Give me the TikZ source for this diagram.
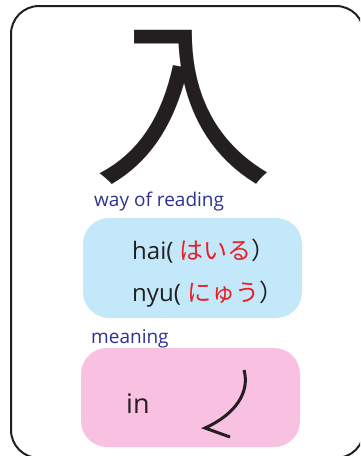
\documentclass[tikz,border=0pt]{standalone}
\usepackage{fontspec}
\setmainfont{Open Sans}
\newfontfamily\cjk{Noto Sans CJK JP}
\definecolor{inkblack}{RGB}{35,31,32}
\definecolor{labelblue}{RGB}{46,49,146}
\definecolor{kanared}{RGB}{237,28,36}
\definecolor{readbg}{RGB}{194,232,249}
\definecolor{meanbg}{RGB}{248,192,225}
\tikzset{
  box/.style={rounded corners=26pt, minimum width=219pt, inner sep=0pt},
  heading/.style={anchor=west, inner sep=0pt, text=labelblue, font=\fontsize{19}{19}\selectfont},
  reading/.style={anchor=west, inner sep=0pt, text=inkblack, font=\fontsize{24}{24}\selectfont}
}
\begin{document}
\begin{tikzpicture}[x=1pt,y=-1pt]
            \useasboundingbox (0,0) rectangle (360,456);
            \clip (0,0) rectangle (360,456);
            \draw [inkblack, line width=2pt, rounded corners=28pt] (11,6) rectangle (364,458);
            \node [inner sep=0pt, text=inkblack, font=\cjk\fontsize{180}{180}\selectfont] (kanji) at (183,107) {入};
            \node [heading] (readhead) at (94,202) {way of reading};
            \node [box, fill=readbg, minimum height=100pt] (readbox) at (192.5,268) {};
            \node [reading] (hai) at (132,251) {hai( {\cjk\color{kanared}はいる}{\cjk ）}};
            \node [reading] (nyu) at (132,294) {nyu( {\cjk\color{kanared}にゅう}{\cjk ）}};
            \node [heading] (meanhead) at (91,339) {meaning};
            \node [box, fill=meanbg, minimum height=99pt] (meanbox) at (190.5,397.5) {};
            \node [reading, font=\fontsize{27}{27}\selectfont] (meaning) at (126,404) {in};
            \draw [inkblack, line width=3pt, line join=miter] (244,370) .. controls (250,392) and (236,414) .. (205,428) -- (230,437);
\end{tikzpicture}
\end{document}
